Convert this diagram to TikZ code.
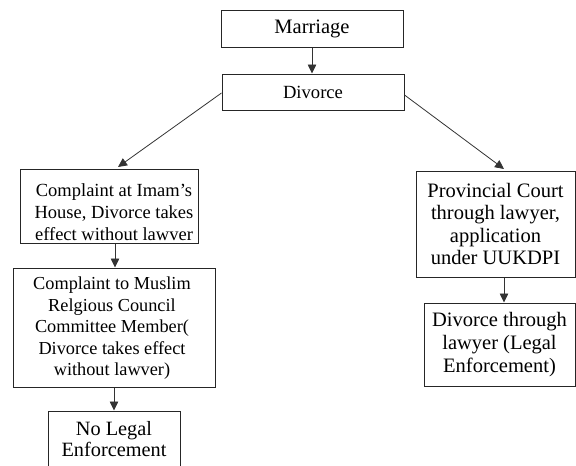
\documentclass[tikz,border=0pt]{standalone}
\usepackage{fontspec}
\setmainfont{Liberation Serif}
\usetikzlibrary{arrows.meta}
\begin{document}
\begin{tikzpicture}[x=1pt,y=-1pt,
  box/.style={draw=black!85,line width=1pt,rectangle,inner sep=0pt},
  txt/.style={align=center,inner sep=0pt,text=black},
  arr/.style={draw=black!80,line width=0.8pt,-{Triangle[length=9pt,width=8.5pt]}}]
\useasboundingbox (0,0) rectangle (576,466);
% boxes
\node[box,minimum width=182pt,minimum height=37pt] (marriage) at (312,28.5) {};
\node[box,minimum width=182pt,minimum height=36pt] (divorce) at (313,92) {};
\node[box,minimum width=178pt,minimum height=74pt] (imam) at (109,206) {};
\node[box,minimum width=202pt,minimum height=119pt] (council) at (114,327.5) {};
\node[box,minimum width=132pt,minimum height=70pt] (nolegal) at (114,446) {};
\node[box,minimum width=159pt,minimum height=106pt] (court) at (495.5,224) {};
\node[box,minimum width=151pt,minimum height=83pt] (lawyer) at (499.5,344.5) {};
% texts
\node[txt,font=\fontsize{20.5}{22}\selectfont] (tmarriage) at (marriage) {Marriage};
\node[txt,font=\fontsize{18.6}{22}\selectfont] (tdivorce) at (divorce) {Divorce};
\node[txt,font=\fontsize{18.5}{22}\selectfont,xshift=5pt,yshift=-6pt] (timam) at (imam)
  {Complaint at Imam’s\\House, Divorce takes\\effect without lawver};
\node[txt,font=\fontsize{18.3}{21.5}\selectfont,xshift=-2pt,yshift=-1pt] (tcouncil) at (council)
  {Complaint to Muslim\\Relgious Council\\Committee Member(\\Divorce takes effect\\without lawver)};
\node[txt,font=\fontsize{20.3}{21.7}\selectfont,anchor=north] (tnolegal) at (114,421)
  {No Legal\\Enforcement};
\node[txt,font=\fontsize{20.5}{22.5}\selectfont] (tcourt) at (court)
  {Provincial Court\\through lawyer,\\application\\under UUKDPI};
\node[txt,font=\fontsize{20.5}{23}\selectfont] (tlawyer) at (lawyer)
  {Divorce through\\lawyer (Legal\\Enforcement)};
% connectors
\draw[arr] (marriage.south) -- (marriage.south |- divorce.north);
\draw[arr] ([yshift=-1pt]divorce.west) -- ([xshift=9pt,yshift=1.5pt]imam.north);
\draw[arr] ([yshift=-3pt]divorce.east) -- ([xshift=8.5pt,yshift=1.5pt]court.north);
\draw[arr] ([xshift=6pt]imam.south) -- ([xshift=6pt]imam.south |- council.north);
\draw[arr] (council.south) -- (council.south |- nolegal.north);
\draw[arr] ([xshift=8.5pt]court.south) -- ([xshift=8.5pt]court.south |- lawyer.north);
\end{tikzpicture}
\end{document}
